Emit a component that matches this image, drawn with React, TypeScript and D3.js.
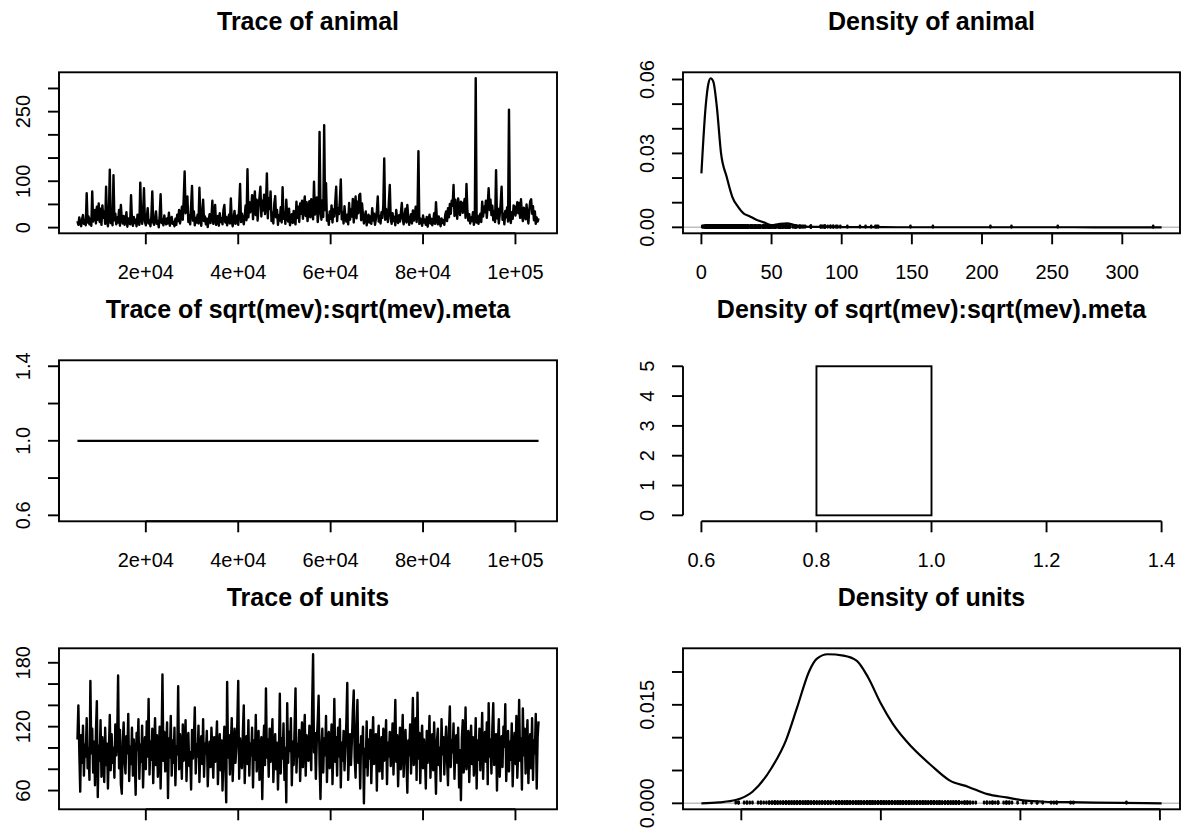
import React from "react";
import * as d3 from "d3";

const WIDTH = 1184;
const HEIGHT = 835;

// MCMC chain attributes: first stored iteration and thinning interval
const CHAIN_START = 5200;
const CHAIN_THIN = 200;

// Posterior samples of the animal variance component
const animalTrace = [
  14, 6, 22, 9, 3, 18, 27, 8, 15, 5,
  74, 11, 24, 7, 19, 4, 78, 13, 29, 38,
  9, 45, 17, 52, 12, 41, 6, 48, 21, 35,
  8, 88, 15, 3, 26, 125, 10, 19, 5, 113,
  16, 30, 7, 22, 11, 38, 4, 49, 18, 9,
  25, 6, 14, 33, 2, 20, 12, 7, 70, 15,
  4, 23, 10, 17, 3, 28, 12, 6, 97, 19,
  8, 31, 85, 13, 5, 21, 42, 9, 16, 3,
  24, 78, 11, 6, 19, 35, 8, 14, 0.6, 27,
  72, 10, 18, 5, 26, 13, 7, 20, 9, 32,
  4, 15, 23, 8, 12, 3, 19, 6, 28, 14,
  38, 9, 22, 45, 17, 62, 121, 31, 56, 67,
  12, 26, 7, 48, 90, 15, 35, 5, 21, 11,
  28, 9, 86, 18, 4, 33, 60, 14, 24, 7,
  19, 1.2, 16, 29, 10, 22, 58, 8, 17, 49,
  6, 13, 25, 4, 31, 12, 20, 7, 38, 49,
  11, 23, 5, 17, 28, 9, 63, 14, 3, 21,
  36, 8, 15, 26, 6, 44, 94, 12, 30, 19,
  7, 25, 48, 16, 126, 22, 55, 33, 41, 70,
  18, 52, 78, 27, 60, 15, 46, 66, 88, 24,
  58, 37, 71, 29, 49, 117, 20, 63, 40, 78,
  14, 32, 9, 51, 68, 22, 38, 6, 27, 15,
  44, 11, 87, 19, 33, 8, 60, 24, 13, 41,
  5, 18, 29, 10, 36, 16, 7, 56, 21, 45,
  12, 52, 30, 58, 19, 48, 67, 25, 55, 14,
  40, 57, 22, 61, 35, 18, 99, 28, 50, 65,
  12, 31, 206, 44, 17, 59, 23, 221, 38, 96,
  15, 27, 6, 35, 19, 48, 11, 39, 24, 55,
  88, 14, 42, 29, 60, 104, 18, 33, 9, 46,
  21, 13, 28, 7, 53, 17, 39, 24, 62, 11,
  45, 67, 20, 56, 31, 70, 73, 16, 52, 27,
  9, 22, 35, 5, 18, 28, 11, 24, 8, 42,
  15, 30, 6, 19, 36, 67, 13, 25, 9, 33,
  21, 48, 149, 17, 40, 26, 12, 55, 92, 20,
  8, 31, 14, 23, 5, 38, 17, 10, 27, 13,
  32, 53, 19, 7, 26, 41, 11, 49, 22, 6,
  18, 29, 9, 37, 15, 24, 45, 12, 33, 165,
  8, 20, 14, 4, 26, 11, 17, 6, 23, 2,
  15, 28, 9, 19, 5, 13, 31, 8, 55, 18,
  7, 24, 12, 3, 20, 10, 16, 6, 27, 35,
  14, 42, 22, 51, 30, 58, 47, 92, 25, 60,
  38, 19, 63, 44, 27, 56, 53, 32, 48, 62,
  21, 94, 36, 15, 29, 9, 22, 14, 33, 6,
  18, 322, 11, 26, 8, 19, 30, 12, 56, 24,
  45, 33, 58, 21, 50, 85, 38, 60, 27, 47,
  16, 35, 12, 124, 20, 41, 9, 28, 52, 88,
  17, 30, 7, 36, 22, 44, 13, 254, 25, 10,
  33, 19, 48, 45, 26, 39, 55, 31, 53, 21,
  61, 28, 14, 43, 36, 18, 50, 24, 9, 39,
  57, 61, 30, 46, 16, 35, 8, 22, 13, 20,
];

// Posterior samples of the residual (units) variance
const unitsTrace = [
  108, 140, 97, 59, 112, 86, 121, 74, 103, 92,
  128, 81, 99, 70, 163, 95, 118, 77, 106, 65,
  115, 144, 54, 102, 88, 126, 73, 110, 91, 68,
  119, 84, 104, 62, 97, 131, 79, 113, 86, 100,
  72, 122, 93, 108, 168, 81, 117, 66, 57, 105,
  124, 88, 76, 111, 95, 132, 69, 101, 85, 119,
  74, 108, 90, 56, 114, 98, 127, 71, 103, 87,
  121, 63, 96, 110, 80, 125, 92, 146, 75, 106,
  89, 118, 67, 101, 128, 84, 112, 73, 97, 120,
  62, 104, 169, 88, 115, 78, 99, 124, 53, 109,
  91, 130, 74, 107, 86, 119, 65, 102, 94, 158,
  80, 113, 97, 71, 122, 88, 105, 126, 69, 100,
  114, 83, 96, 61, 117, 90, 108, 138, 76, 103,
  92, 121, 68, 99, 111, 85, 127, 73, 104, 95,
  116, 64, 89, 106, 82, 119, 98, 72, 110, 87,
  102, 125, 66, 94, 113, 79, 107, 60, 97, 120,
  84, 49, 162, 91, 112, 75, 103, 128, 69, 96,
  118, 86, 100, 123, 163, 71, 109, 92, 81, 115,
  140, 67, 98, 111, 85, 126, 74, 104, 93, 119,
  63, 107, 89, 131, 78, 101, 116, 70, 95, 110,
  52, 99, 121, 84, 156, 91, 108, 73, 118, 87,
  102, 127, 68, 96, 113, 80, 105, 61, 94, 151,
  76, 109, 90, 123, 70, 100, 49, 142, 86, 115,
  97, 128, 65, 106, 84, 119, 156, 77, 103, 92,
  117, 69, 99, 124, 82, 108, 131, 74, 112, 95,
  88, 121, 103, 79, 140, 188, 96, 114, 71, 106,
  125, 149, 85, 52, 101, 118, 77, 109, 93, 130,
  68, 104, 115, 81, 98, 122, 66, 100, 146, 87,
  110, 74, 119, 92, 127, 63, 105, 88, 116, 79,
  101, 124, 161, 70, 96, 113, 84, 107, 134, 154,
  91, 72, 118, 145, 86, 103, 62, 111, 95, 120,
  48, 99, 82, 125, 74, 108, 90, 117, 67, 102,
  129, 85, 97, 113, 60, 106, 121, 78, 94, 110,
  71, 118, 88, 101, 126, 66, 105, 92, 115, 83,
  99, 123, 75, 109, 145, 87, 112, 64, 96, 119,
  80, 104, 131, 73, 100, 117, 89, 58, 107, 93,
  122, 76, 111, 147, 84, 99, 128, 70, 152, 90,
  114, 67, 102, 121, 81, 108, 95, 62, 116, 86,
  104, 130, 72, 97, 113, 79, 124, 91, 57, 106,
  118, 84, 100, 69, 127, 94, 110, 75, 103, 120,
  88, 65, 115, 139, 82, 107, 96, 123, 71, 101,
  112, 86, 119, 63, 98, 51, 109, 126, 77, 93,
  138, 80, 104, 116, 68, 99, 121, 85, 110, 74,
  95, 128, 62, 107, 89, 118, 79, 100, 133, 71,
  103, 115, 87, 124, 66, 142, 92, 108, 76, 119,
  142, 84, 98, 113, 60, 105, 127, 73, 96, 111,
  82, 120, 101, 141, 69, 94, 116, 78, 106, 89,
  123, 64, 100, 114, 85, 130, 72, 97, 145, 88,
  109, 61, 137, 93, 118, 76, 104, 126, 67, 99,
  113, 81, 128, 70, 107, 95, 132, 62, 110, 125,
];

// Fixed (constant) chain for sqrt(mev):sqrt(mev).meta
const mevValue = 1.0;
const mevBreaks = [0.6, 0.8, 1.0, 1.2, 1.4];
const mevDensity = [0, 5, 0, 0];

// Kernel density estimate of the animal chain
const animalDensX = [0, 3, 5, 6.6, 8.5, 11, 14, 18, 22, 26, 30, 34, 39.5, 45, 50, 55, 61, 66.5, 72, 80, 90, 100, 110, 120, 130, 150, 170, 200, 220, 250, 280, 300, 328];
const animalDensY = [0.0219, 0.0489, 0.0584, 0.0605, 0.0591, 0.0489, 0.03, 0.0205, 0.0124, 0.0084, 0.0057, 0.0046, 0.003, 0.0019, 0.0009, 0.0013, 0.0016, 0.0009, 0.0003, 0.0002, 0.00015, 0.0001, 0.0001, 0.00008, 0.00005, 0.00004, 0.00003, 0.00004, 0.00004, 0.00004, 0.00002, 0.00002, 0.00001];

// Kernel density estimate of the units chain
const unitsDensX = [35.7, 42, 48, 54, 61, 66, 70, 74.4, 77, 81, 86.6, 91.4, 95.4, 100, 104.3, 111, 118, 124.6, 131.4, 138.2, 145, 151.8, 158.5, 172, 186, 200.6];
const unitsDensY = [0, 0.00015, 0.0005, 0.00176, 0.0055, 0.0096, 0.0146, 0.0202, 0.022, 0.0227, 0.0225, 0.0217, 0.0192, 0.0152, 0.0121, 0.0086, 0.0058, 0.0035, 0.0025, 0.0014, 0.0009, 0.0004, 0.00024, 0.00015, 0.00006, 0];

// Axis ticks and the subset that carries labels
const traceXTicks = [20000, 40000, 60000, 80000, 100000];
const traceXLabels = ["2e+04", "4e+04", "6e+04", "8e+04", "1e+05"];
const animalYTicks = [0, 50, 100, 150, 200, 250, 300];
const animalYLabels = ["0", "", "100", "", "", "250", ""];
const animalDensXTicks = [0, 50, 100, 150, 200, 250, 300];
const animalDensYTicks = [0, 0.01, 0.02, 0.03, 0.04, 0.05, 0.06];
const animalDensYLabels = ["0.00", "", "", "0.03", "", "", "0.06"];
const mevYTicks = [0.6, 0.8, 1.0, 1.2, 1.4];
const mevYLabels = ["0.6", "", "1.0", "", "1.4"];
const mevHistXTicks = [0.6, 0.8, 1.0, 1.2, 1.4];
const mevHistXLabels = ["0.6", "0.8", "1.0", "1.2", "1.4"];
const mevHistYTicks = [0, 1, 2, 3, 4, 5];
const unitsYTicks = [60, 80, 100, 120, 140, 160, 180];
const unitsYLabels = ["60", "", "", "120", "", "", "180"];
const unitsDensXTicks = [50, 100, 150, 200];
const unitsDensYTicks = [0, 0.005, 0.01, 0.015, 0.02];
const unitsDensYLabels = ["0.000", "", "", "0.015", ""];

// Layout of the 3 x 2 grid of plot regions
const COLS = [
  { x0: 59, x1: 557 },
  { x0: 683, x1: 1180 },
];
const ROW_TOPS = [72.3, 360.3, 648.3];
const ROW_H = 161;

const FONT = "'Liberation Sans', Arial, Helvetica, sans-serif";
const TICK_FS = 20;
const TITLE_FS = 25;
const LW = 1.9;
const TRACE_LW = 2.4;
const TICK_LEN = 11;

const extendRange = (lo: number, hi: number): [number, number] => {
  const r = hi - lo;
  return [lo - 0.04 * r, hi + 0.04 * r];
};

type PanelProps = {
  col: number;
  row: number;
  title: string;
  xDomain: [number, number];
  yDomain: [number, number];
  xTicks: number[];
  xLabels: string[];
  yTicks: number[];
  yLabels: string[];
  box?: boolean;
  children: (xs: d3.ScaleLinear<number, number>, ys: d3.ScaleLinear<number, number>) => React.ReactNode;
};

function Panel({ col, row, title, xDomain, yDomain, xTicks, xLabels, yTicks, yLabels, box = true, children }: PanelProps) {
  const { x0, x1 } = COLS[col];
  const y0 = ROW_TOPS[row];
  const y1 = y0 + ROW_H;
  const xs = d3.scaleLinear().domain(xDomain).range([x0, x1]);
  const ys = d3.scaleLinear().domain(yDomain).range([y1, y0]);
  return (
    <g>
      <text x={(x0 + x1) / 2} y={y0 - 42} textAnchor="middle" fontFamily={FONT} fontSize={TITLE_FS} fontWeight="bold">
        {title}
      </text>
      {children(xs, ys)}
      {box && <rect x={x0} y={y0} width={x1 - x0} height={y1 - y0} fill="none" stroke="#000" strokeWidth={LW} />}
      {/* x axis */}
      <line x1={xs(xTicks[0])} x2={xs(xTicks[xTicks.length - 1])} y1={y1} y2={y1} stroke="#000" strokeWidth={LW} />
      {xTicks.map((t, i) => (
        <g key={"x" + i}>
          <line x1={xs(t)} x2={xs(t)} y1={y1} y2={y1 + TICK_LEN} stroke="#000" strokeWidth={LW} />
          {xLabels[i] && (
            <text x={xs(t)} y={y1 + 46} textAnchor="middle" fontFamily={FONT} fontSize={TICK_FS}>
              {xLabels[i]}
            </text>
          )}
        </g>
      ))}
      {/* y axis */}
      <line x1={x0} x2={x0} y1={ys(yTicks[0])} y2={ys(yTicks[yTicks.length - 1])} stroke="#000" strokeWidth={LW} />
      {yTicks.map((t, i) => (
        <g key={"y" + i}>
          <line x1={x0 - TICK_LEN} x2={x0} y1={ys(t)} y2={ys(t)} stroke="#000" strokeWidth={LW} />
          {yLabels[i] && (
            <text
              transform={`translate(${x0 - 29},${ys(t)}) rotate(-90)`}
              textAnchor="middle"
              fontFamily={FONT}
              fontSize={TICK_FS}
            >
              {yLabels[i]}
            </text>
          )}
        </g>
      ))}
    </g>
  );
}

const iterOf = (i: number) => CHAIN_START + i * CHAIN_THIN;

function TracePath({ values, xs, ys }: { values: number[]; xs: any; ys: any }) {
  const line = d3
    .line<number>()
    .x((_, i) => xs(iterOf(i)))
    .y((v) => ys(v));
  return <path d={line(values) ?? ""} fill="none" stroke="#000" strokeWidth={TRACE_LW} strokeLinejoin="round" />;
}

function DensityMarks({ dx, dy, obs, xs, ys }: { dx: number[]; dy: number[]; obs: number[]; xs: any; ys: any }) {
  const pts = dx.map((x, i) => [x, dy[i]] as [number, number]);
  const line = d3
    .line<[number, number]>()
    .x((d) => xs(d[0]))
    .y((d) => ys(d[1]))
    .curve(d3.curveMonotoneX);
  const [r0, r1] = xs.range();
  const rugTop = (d3.max(dy) ?? 0) / 100;
  return (
    <g>
      <line x1={r0} x2={r1} y1={ys(0)} y2={ys(0)} stroke="#bebebe" strokeWidth={1.5} />
      <path d={line(pts) ?? ""} fill="none" stroke="#000" strokeWidth={LW + 0.3} strokeLinejoin="round" />
      {obs.map((v, i) => (
        <line key={i} x1={xs(v)} x2={xs(v)} y1={ys(0)} y2={ys(rugTop)} stroke="#000" strokeWidth={2.6} strokeLinecap="round" />
      ))}
    </g>
  );
}

export default function App() {
  const lastIter = iterOf(animalTrace.length - 1);
  const traceX = extendRange(CHAIN_START, lastIter);
  const animalExt = d3.extent(animalTrace) as [number, number];
  const unitsExt = d3.extent(unitsTrace) as [number, number];
  const animalDensExt = d3.extent(animalDensX) as [number, number];
  const unitsDensExt = d3.extent(unitsDensX) as [number, number];
  const mevRange = extendRange(mevValue * 0.6, mevValue * 1.4);

  return (
    <svg
      width={WIDTH}
      height={HEIGHT}
      viewBox={`0 0 ${WIDTH} ${HEIGHT}`}
      style={{ position: "absolute", left: 0, top: 0, background: "#fff" }}
    >
      <rect width={WIDTH} height={HEIGHT} fill="#fff" />

      <Panel
        col={0}
        row={0}
        title="Trace of animal"
        xDomain={traceX}
        yDomain={extendRange(animalExt[0], animalExt[1])}
        xTicks={traceXTicks}
        xLabels={traceXLabels}
        yTicks={animalYTicks}
        yLabels={animalYLabels}
      >
        {(xs, ys) => <TracePath values={animalTrace} xs={xs} ys={ys} />}
      </Panel>

      <Panel
        col={1}
        row={0}
        title="Density of animal"
        xDomain={extendRange(animalDensExt[0], animalDensExt[1])}
        yDomain={extendRange(0, d3.max(animalDensY) ?? 0)}
        xTicks={animalDensXTicks}
        xLabels={animalDensXTicks.map(String)}
        yTicks={animalDensYTicks}
        yLabels={animalDensYLabels}
      >
        {(xs, ys) => <DensityMarks dx={animalDensX} dy={animalDensY} obs={animalTrace} xs={xs} ys={ys} />}
      </Panel>

      <Panel
        col={0}
        row={1}
        title="Trace of sqrt(mev):sqrt(mev).meta"
        xDomain={traceX}
        yDomain={mevRange}
        xTicks={traceXTicks}
        xLabels={traceXLabels}
        yTicks={mevYTicks}
        yLabels={mevYLabels}
      >
        {(xs, ys) => (
          <line x1={xs(CHAIN_START)} x2={xs(lastIter)} y1={ys(mevValue)} y2={ys(mevValue)} stroke="#000" strokeWidth={2.2} />
        )}
      </Panel>

      <Panel
        col={1}
        row={1}
        title="Density of sqrt(mev):sqrt(mev).meta"
        xDomain={extendRange(mevBreaks[0], mevBreaks[mevBreaks.length - 1])}
        yDomain={extendRange(0, d3.max(mevDensity) ?? 0)}
        xTicks={mevHistXTicks}
        xLabels={mevHistXLabels}
        yTicks={mevHistYTicks}
        yLabels={mevHistYTicks.map(String)}
        box={false}
      >
        {(xs, ys) => (
          <g>
            {mevDensity.map((d, i) => (
              <rect
                key={i}
                x={xs(mevBreaks[i])}
                y={ys(d)}
                width={xs(mevBreaks[i + 1]) - xs(mevBreaks[i])}
                height={ys(0) - ys(d)}
                fill="none"
                stroke="#000"
                strokeWidth={LW}
              />
            ))}
          </g>
        )}
      </Panel>

      <Panel
        col={0}
        row={2}
        title="Trace of units"
        xDomain={traceX}
        yDomain={extendRange(unitsExt[0], unitsExt[1])}
        xTicks={traceXTicks}
        xLabels={traceXLabels}
        yTicks={unitsYTicks}
        yLabels={unitsYLabels}
      >
        {(xs, ys) => <TracePath values={unitsTrace} xs={xs} ys={ys} />}
      </Panel>

      <Panel
        col={1}
        row={2}
        title="Density of units"
        xDomain={extendRange(unitsDensExt[0], unitsDensExt[1])}
        yDomain={extendRange(0, d3.max(unitsDensY) ?? 0)}
        xTicks={unitsDensXTicks}
        xLabels={unitsDensXTicks.map(String)}
        yTicks={unitsDensYTicks}
        yLabels={unitsDensYLabels}
      >
        {(xs, ys) => <DensityMarks dx={unitsDensX} dy={unitsDensY} obs={unitsTrace} xs={xs} ys={ys} />}
      </Panel>
    </svg>
  );
}
